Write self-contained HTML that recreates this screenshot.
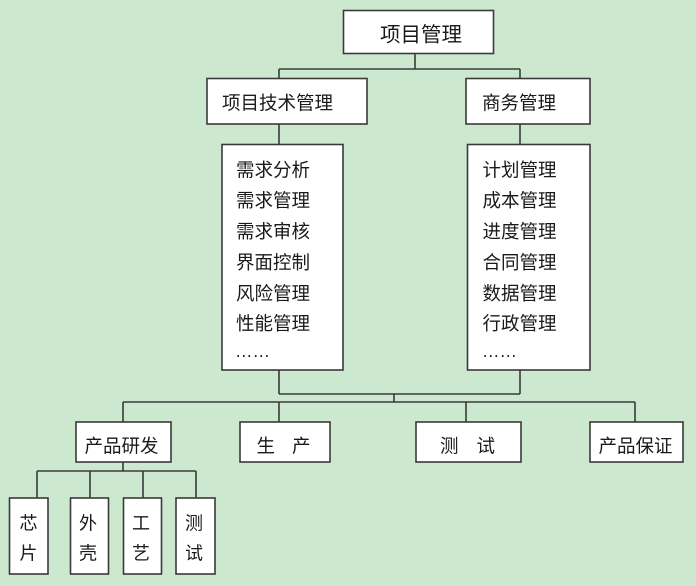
<!DOCTYPE html>
<html><head><meta charset="utf-8">
<style>
html,body{margin:0;padding:0;background:#cce8cf;}
svg{display:block;}
text{font-family:"Liberation Sans","Noto Sans CJK SC",sans-serif;fill:#1a1a1a;dominant-baseline:central;}
</style></head>
<body>
<svg width="696" height="586" viewBox="0 0 696 586" xmlns="http://www.w3.org/2000/svg">
<rect x="0" y="0" width="696" height="586" fill="#cce8cf"/>
<g stroke="#3a3a3a" stroke-width="1.6" fill="none">
  <line x1="415" y1="53" x2="415" y2="69"/>
  <line x1="279" y1="69" x2="520" y2="69"/>
  <line x1="279" y1="69" x2="279" y2="78"/>
  <line x1="520" y1="69" x2="520" y2="78"/>
  <line x1="279" y1="124" x2="279" y2="144"/>
  <line x1="520" y1="124" x2="520" y2="144"/>
  <line x1="279" y1="370" x2="279" y2="394"/>
  <line x1="520" y1="370" x2="520" y2="394"/>
  <line x1="279" y1="394" x2="520" y2="394"/>
  <line x1="394" y1="394" x2="394" y2="402"/>
  <line x1="123" y1="402" x2="635" y2="402"/>
  <line x1="123" y1="402" x2="123" y2="422"/>
  <line x1="279" y1="402" x2="279" y2="422"/>
  <line x1="466" y1="402" x2="466" y2="422"/>
  <line x1="635" y1="402" x2="635" y2="422"/>
  <line x1="123" y1="462" x2="123" y2="471"/>
  <line x1="37" y1="471" x2="196" y2="471"/>
  <line x1="37" y1="471" x2="37" y2="498"/>
  <line x1="90" y1="471" x2="90" y2="498"/>
  <line x1="143" y1="471" x2="143" y2="498"/>
  <line x1="196" y1="471" x2="196" y2="498"/>
</g>
<g stroke="#3a3a3a" stroke-width="1.6" fill="#ffffff">
  <rect x="343.5" y="10.5" width="150" height="43"/>
  <rect x="207" y="78.5" width="160" height="45.5"/>
  <rect x="466" y="78.5" width="124" height="45.5"/>
  <rect x="222" y="144.5" width="121" height="225.5"/>
  <rect x="467.5" y="144.5" width="122.5" height="225.5"/>
  <rect x="76" y="422" width="95" height="40"/>
  <rect x="240" y="422" width="90" height="40"/>
  <rect x="416" y="422" width="105" height="40"/>
  <rect x="590" y="422" width="93" height="40"/>
  <rect x="9.5" y="498" width="38.5" height="76"/>
  <rect x="70.5" y="498" width="38" height="76"/>
  <rect x="123.5" y="498" width="38" height="76"/>
  <rect x="176" y="498" width="39" height="76"/>
</g>
<g font-size="20.5">
  <text x="380" y="35">项目管理</text>
</g>
<g font-size="18.5">
  <text x="222" y="103">项目技术管理</text>
  <text x="482" y="103">商务管理</text>

  <text x="236" y="170">需求分析</text>
  <text x="236" y="200.5">需求管理</text>
  <text x="236" y="231.5">需求审核</text>
  <text x="236" y="262.5">界面控制</text>
  <text x="236" y="293.5">风险管理</text>
  <text x="236" y="323.5">性能管理</text>
  <text x="235" y="351" font-size="17.5">……</text>

  <text x="482.5" y="170">计划管理</text>
  <text x="482.5" y="200.5">成本管理</text>
  <text x="482.5" y="231.5">进度管理</text>
  <text x="482.5" y="262.5">合同管理</text>
  <text x="482.5" y="293.5">数据管理</text>
  <text x="482.5" y="323.5">行政管理</text>
  <text x="482" y="351" font-size="17.5">……</text>

  <text x="84.5" y="446">产品研发</text>
  <text x="256.5" y="446">生</text>
  <text x="292" y="446">产</text>
  <text x="440" y="446">测</text>
  <text x="476.5" y="446">试</text>
  <text x="598.5" y="446">产品保证</text>
</g>
<g font-size="18" text-anchor="middle">
  <text x="28.5" y="523.5">芯</text>
  <text x="28.5" y="553.5">片</text>
  <text x="88" y="523.5">外</text>
  <text x="88" y="553.5">壳</text>
  <text x="141" y="523.5">工</text>
  <text x="141" y="553.5">艺</text>
  <text x="194" y="523.5">测</text>
  <text x="194" y="553.5">试</text>
</g>
</svg>
</body></html>
